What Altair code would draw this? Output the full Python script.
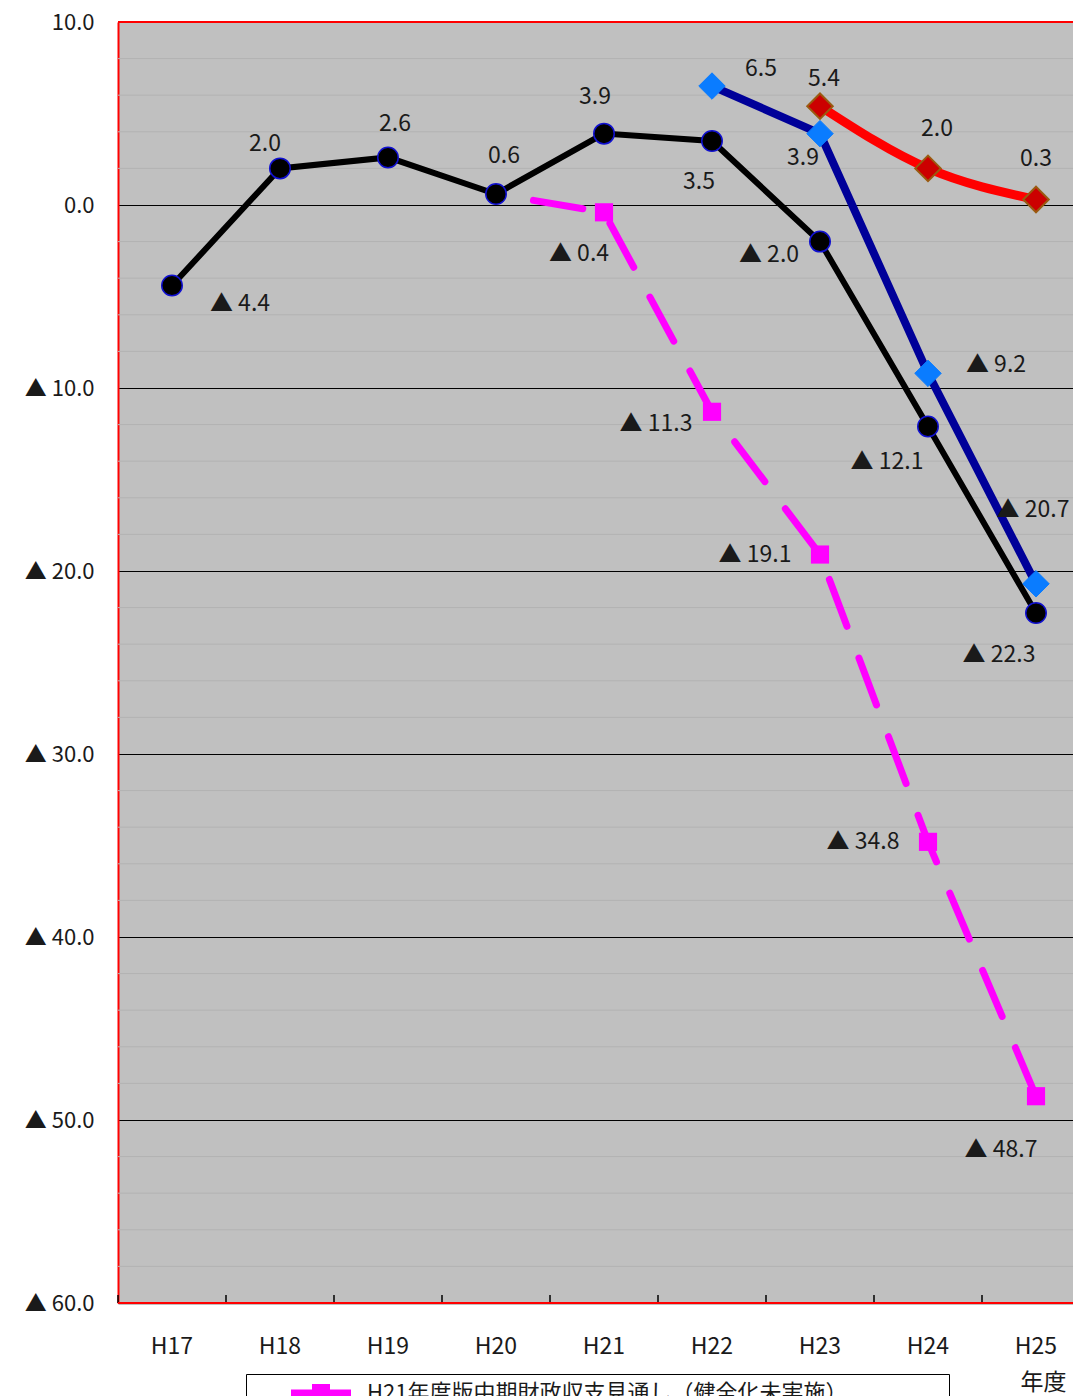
import altair as alt
import pandas as pd

years = ["H17", "H18", "H19", "H20", "H21", "H22", "H23", "H24", "H25"]
actual = [-4.4, 2.0, 2.6, 0.6, 3.9, 3.5, -2.0, -12.1, -22.3]
plan_h21 = [None, None, None, 0.6, -0.4, -11.3, -19.1, -34.8, -48.7]
plan_h22 = [None, None, None, None, None, 6.5, 3.9, -9.2, -20.7]
plan_h23 = [None, None, None, None, None, None, 5.4, 2.0, 0.3]
y_ticks = [10, 0, -10, -20, -30, -40, -50, -60]
legend_name = "H21年度版中期財政収支見通し（健全化未実施）"

# label placement (pixel offsets from each point), style only
label_offsets = {
    "actual": {"H17": (68, 18), "H18": (-15, -24), "H19": (7, -33), "H20": (8, -38),
               "H21": (-9, -37), "H22": (-13, 41), "H23": (-51, 13), "H24": (-41, 36),
               "H25": (-37, 42)},
    "plan21": {"H21": (-25, 42), "H22": (-56, 12), "H23": (-65, 0), "H24": (-65, 0),
               "H25": (-35, 54)},
    "plan22": {"H22": (49, -17), "H23": (-17, 24), "H24": (68, -8), "H25": (-3, -74)},
    "plan23": {"H23": (4, -27), "H24": (9, -39), "H25": (0, -41)},
}

rows = []
for name, vals in [("actual", actual), ("plan21", plan_h21), ("plan22", plan_h22), ("plan23", plan_h23)]:
    for yr, v in zip(years, vals):
        if v is not None:
            rows.append({"series": name, "year": yr, "value": v})
df = pd.DataFrame(rows)

minor = [v for v in range(-58, 10, 2) if v % 10 != 0]

W, H = 955, 1281      # visible plot area (the band range runs past the right edge)
BAND_RANGE = 972
FONT = "Noto Sans CJK JP"
TXT = "#1a1a1a"
FS = 23
NEG_FMT = "datum.value < 0 ? '▲ ' + format(-datum.value, '.1f') : format(datum.value, '.1f')"

xscale = alt.Scale(type="band", domain=years, paddingInner=0, paddingOuter=0,
                   range=[0, BAND_RANGE])
yscale = alt.Scale(domain=[y_ticks[-1], y_ticks[0]], nice=False, zero=False)

xaxis = alt.Axis(title="年度", labelAngle=0, ticks=False, grid=False,
                 domainColor="black", domainWidth=1.5, labelPadding=32,
                 labelFontSize=FS, labelColor=TXT, labelFont=FONT,
                 titleX=925, titleY=79, titleAlign="center",
                 titleBaseline="middle", titleFontSize=FS,
                 titleFontWeight="normal", titleColor=TXT, titleFont=FONT)
yaxis = alt.Axis(values=y_ticks, title=None, grid=True, gridColor="black",
                 gridWidth=1, ticks=False, domain=True, domainColor="#ff0000",
                 domainWidth=2, labelPadding=24,
                 labelFontSize=22, labelColor=TXT, labelFont=FONT,
                 labelExpr=NEG_FMT)

xenc = alt.X("year:N", scale=xscale, sort=years, axis=xaxis)
yenc = alt.Y("value:Q", scale=yscale, axis=yaxis)

base = alt.Chart(df).encode(x=xenc, y=yenc)

minor_rules = alt.Chart(pd.DataFrame({"value": minor})).mark_rule(
    color="#b2b2b2", strokeWidth=1).encode(y=yenc)

frame_rules = alt.Chart(pd.DataFrame({"value": [y_ticks[0], y_ticks[-1]]})).mark_rule(
    color="#ff0000", strokeWidth=2).encode(y=yenc)

tick_rules = alt.Chart(pd.DataFrame({"year": years})).mark_rule(
    color="black", strokeWidth=1.5).encode(
    x=alt.X("year:N", scale=xscale, sort=years, bandPosition=0, axis=xaxis),
    y=alt.value(H - 8), y2=alt.value(H))


def sel(name):
    return base.transform_filter(alt.datum.series == name)


magenta_line = sel("plan21").mark_line(color="#ff00ff", strokeWidth=7,
                                       strokeDash=[50, 34], strokeDashOffset=46,
                                       strokeCap="round")
magenta_pts = sel("plan21").transform_filter(alt.datum.year != "H20").mark_point(
    shape="square", filled=True, color="#ff00ff", size=330, opacity=1)
black_line = sel("actual").mark_line(color="black", strokeWidth=6)
black_pts = sel("actual").mark_point(shape="circle", filled=True, fill="black",
                                     stroke="#1010d0", strokeWidth=1.5, size=420, opacity=1)
navy_line = sel("plan22").mark_line(color="#000099", strokeWidth=8)
navy_pts = sel("plan22").mark_point(shape="diamond", filled=True, fill="#0a7cff",
                                    stroke="#0a7cff", strokeWidth=1, size=700, opacity=1)
red_line = sel("plan23").mark_line(color="#ff0000", strokeWidth=9, interpolate="monotone")
red_pts = sel("plan23").mark_point(shape="diamond", filled=True, fill="#cc0000",
                                   stroke="#9a5a10", strokeWidth=2, size=650, opacity=1)

label_layers = []
for name, offs in label_offsets.items():
    for yr, (dx, dy) in offs.items():
        label_layers.append(
            base.transform_filter((alt.datum.series == name) & (alt.datum.year == yr))
            .transform_calculate(lab=NEG_FMT)
            .mark_text(dx=dx, dy=dy, font=FONT, fontSize=FS, color=TXT,
                       align="center", baseline="middle")
            .encode(text="lab:N"))

# line + square legend symbol; the trailing move-to widens the legend frame
legend_path = "M-3,-0.35H3V0.35H-3Z M-0.9,-0.9H0.9V0.9H-0.9Z M62,0Z"
leg = alt.Legend(title=None, orient="none", legendX=128, legendY=1352,
                 strokeColor="black", fillColor="white", padding=8,
                 symbolSize=400, symbolOffset=56, labelOffset=35,
                 labelFontSize=22, labelFont=FONT, labelColor=TXT, labelLimit=0,
                 symbolStrokeWidth=0)
legend_layer = base.transform_filter("false").mark_point(filled=True, opacity=1).encode(
    color=alt.Color("series:N", scale=alt.Scale(domain=[legend_name], range=["#ff00ff"]), legend=leg),
    shape=alt.Shape("series:N", scale=alt.Scale(domain=[legend_name], range=[legend_path]), legend=leg),
)

chart = alt.layer(
    minor_rules, tick_rules, magenta_line, black_line, black_pts, magenta_pts,
    navy_line, navy_pts, red_line, red_pts, *label_layers, frame_rules, legend_layer
).properties(
    width=W, height=H,
    autosize=alt.AutoSizeParams(type="none"),
    padding={"left": 110, "top": 14, "right": 0, "bottom": 110}
).configure(font=FONT).configure_view(
    fill="#c0c0c0", strokeWidth=0
)

chart.save("out.html", embed_options={"renderer": "svg", "actions": False})
